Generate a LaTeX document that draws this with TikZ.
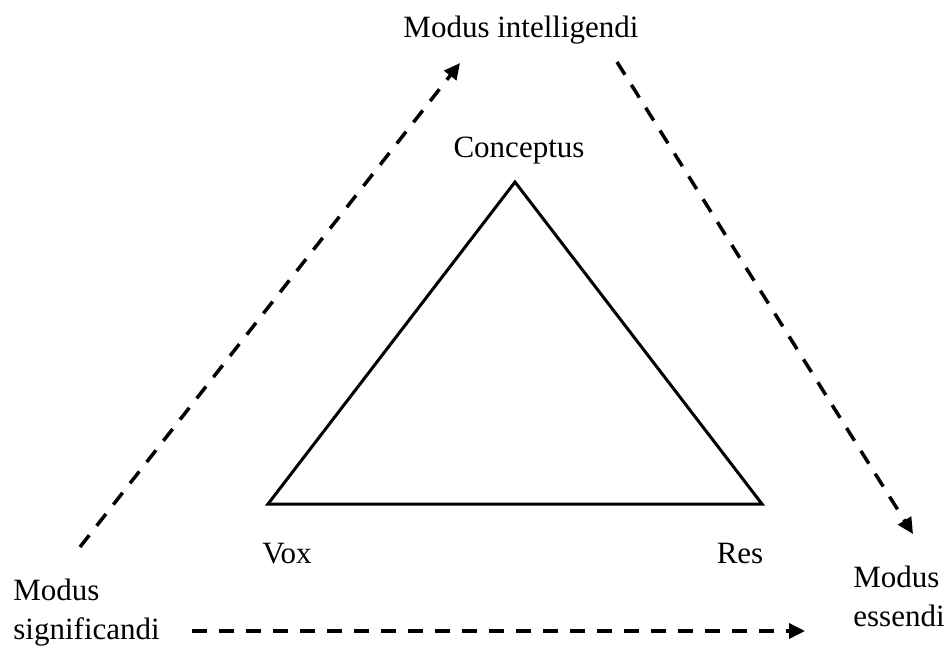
\documentclass[tikz,border=0pt]{standalone}
\usepackage{fontspec}
\setmainfont{Liberation Serif}
\usepackage{tikz}
\usetikzlibrary{arrows.meta,positioning}
\tikzset{%
modus arrow/.style={line width=1.75pt, dash pattern=on 7.5pt off 6pt,
  -{Triangle[length=8pt,width=7.5pt]}},
term/.style={inner sep=0pt, font=\fontsize{15.5}{19.5}\selectfont, align=left}
}

\begin{document}
\begin{tikzpicture}[x=0.5pt,y=-0.5pt]
\useasboundingbox (0,0) rectangle (952,648);

% the semiotic triangle
\coordinate (conceptus) at (515,182);
\coordinate (vox) at (268,504);
\coordinate (res) at (762,504);
\draw[line width=1.5pt, line join=miter] (conceptus) -- (vox) -- (res) -- cycle;

\node[term, anchor=base] (conceptusL) at (519,157) {Conceptus};
\node[term, anchor=base] (voxL) at (287,563) {Vox};
\node[term, anchor=base] (resL) at (740,563) {Res};

% the three modi
\node[term, anchor=base] (intelligendi) at (521,37) {Modus intelligendi};
\node[term, anchor=west] (significandi) at (13,613) {Modus\\significandi};
\node[term, anchor=west] (essendi) at (853,596) {Modus\\essendi};

\coordinate (sigTop) at (80,547);
\coordinate (intLeft) at (460,63);
\coordinate (intRight) at (617,62);
\coordinate (essTop) at (913,534);
\coordinate (sigRight) at (192,631);
\coordinate (essLeft) at (805,631);

\draw[modus arrow] (sigTop) -- (intLeft);
\draw[modus arrow] (intRight) -- (essTop);
\draw[modus arrow] (sigRight) -- (essLeft);

\end{tikzpicture}
\end{document}
